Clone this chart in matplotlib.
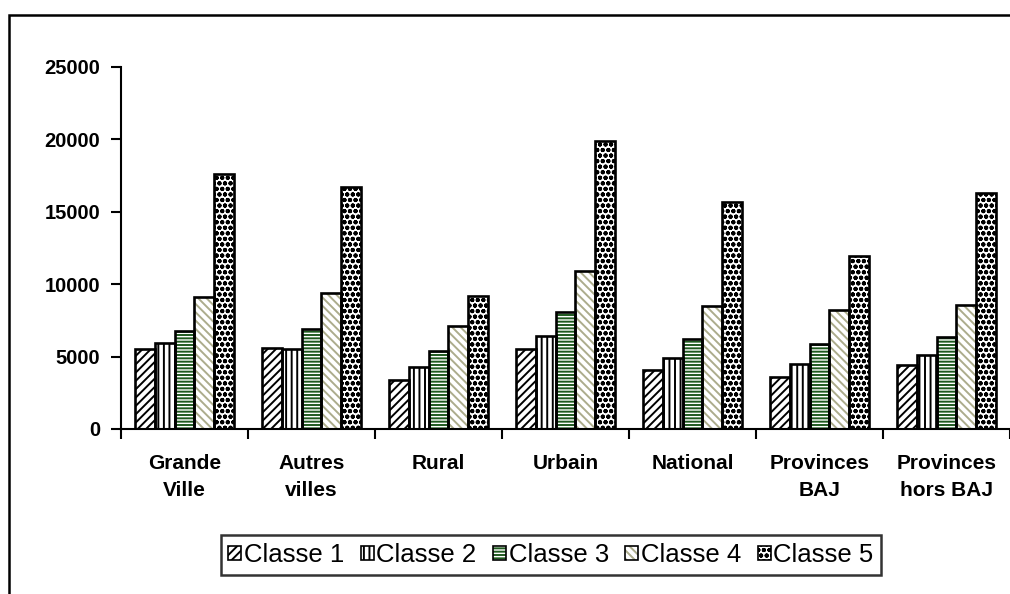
import numpy as np
import matplotlib
matplotlib.use("Agg")
import matplotlib.pyplot as plt
from matplotlib.patches import Rectangle, Patch
from matplotlib.legend_handler import HandlerTuple

plt.rcParams['font.family'] = ['Liberation Sans', 'DejaVu Sans']
plt.rcParams['hatch.linewidth'] = 1.4

# data
categories = ["Grande\nVille", "Autres\nvilles", "Rural", "Urbain", "National",
              "Provinces\nBAJ", "Provinces\nhors BAJ"]
series_names = ["Classe 1", "Classe 2", "Classe 3", "Classe 4", "Classe 5"]
classe1 = [5500, 5600, 3400, 5500, 4050, 3600, 4400]
classe2 = [5950, 5550, 4300, 6400, 4900, 4500, 5100]
classe3 = [6800, 6900, 5400, 8100, 6200, 5850, 6350]
classe4 = [9100, 9400, 7100, 10900, 8500, 8200, 8550]
classe5 = [17600, 16700, 9200, 19900, 15650, 11950, 16300]
values = [classe1, classe2, classe3, classe4, classe5]
yticks = [0, 5000, 10000, 15000, 20000, 25000]

# hatch pattern and hatch colour for each series
hatches = ['////', '|||', '-----', '\\\\\\\\', 'ooo']
hatch_colors = ['black', 'black', '#1f5a1f', '#acac8c', 'black']

fig = plt.figure(figsize=(10.1, 5.94), dpi=100)
ax = fig.add_axes([121/1010, 165/594, 889/1010, 362/594])

x = np.arange(len(categories))
width = 0.156
n = len(series_names)
handles = []
for i in range(n):
    pos = x + (i - (n - 1) / 2) * width
    ax.bar(pos, values[i], width, color='white', edgecolor=hatch_colors[i],
           hatch=hatches[i], linewidth=0, zorder=2)
    ax.bar(pos, values[i], width, fill=False, edgecolor='black',
           linewidth=1.9, zorder=3)
    h1 = Patch(facecolor='white', edgecolor=hatch_colors[i], hatch=hatches[i], linewidth=0)
    h2 = Patch(fill=False, edgecolor='black', linewidth=1.2)
    handles.append((h1, h2))

ax.set_xlim(-0.5, len(categories) - 0.5)
ax.set_ylim(0, 25000)
ax.set_yticks(yticks)
ax.set_yticklabels([str(v) for v in yticks], fontsize=14.5, fontweight='bold')

# boundaries get tick marks, centres get the labels
ax.set_xticks(np.arange(len(categories) + 1) - 0.5)
ax.set_xticklabels([])
ax.set_xticks(x, minor=True)
ax.set_xticklabels(categories, minor=True, fontsize=15, fontweight='bold',
                   linespacing=1.5)
ax.tick_params(axis='x', which='minor', length=0, pad=18)
ax.tick_params(axis='x', which='major', length=7, width=1.5, direction='out')
ax.tick_params(axis='y', length=7, width=1.5, pad=8)

for s in ['top', 'right']:
    ax.spines[s].set_visible(False)
for s in ['left', 'bottom']:
    ax.spines[s].set_linewidth(1.5)

leg = fig.legend(handles, series_names, loc='center',
                 bbox_to_anchor=(551/1010, 1 - 555/594), ncol=5,
                 fontsize=18.5, frameon=True, fancybox=False,
                 handlelength=0.5, handleheight=0.5, handletextpad=0.1,
                 columnspacing=0.65, borderpad=0.3, borderaxespad=0,
                 handler_map={tuple: HandlerTuple(ndivide=1)})
leg.get_frame().set_edgecolor('black')
leg.get_frame().set_linewidth(1.8)

# outer chart-area frame, running off the right and bottom edges
fig.patches.append(Rectangle((9/1010, -0.2), 1.2, 1.2 - 15/594,
                             transform=fig.transFigure, fill=False,
                             edgecolor='black', linewidth=1.8))

fig.savefig('out.png', dpi=100)
